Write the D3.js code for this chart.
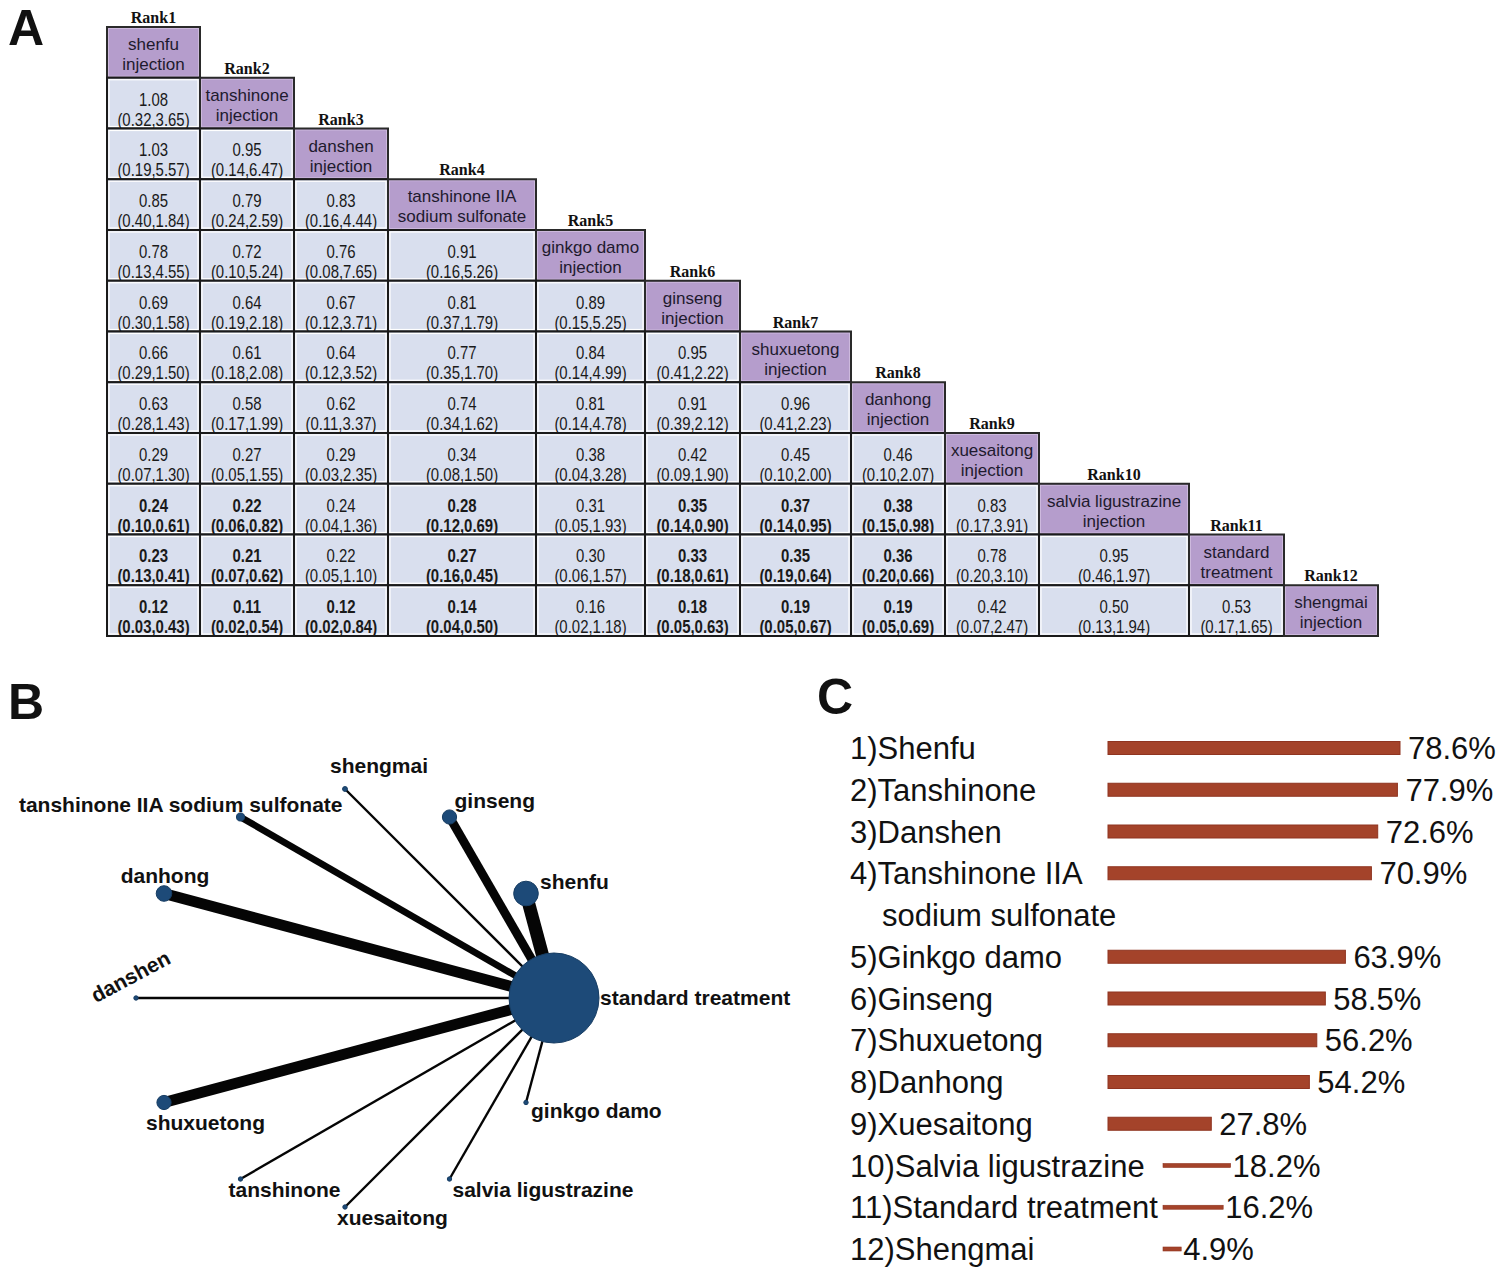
<!DOCTYPE html>
<html><head><meta charset="utf-8">
<script src="https://cdn.jsdelivr.net/npm/d3@7"></script>
<style>body{margin:0;background:#fff}svg{display:block}</style>
</head><body>
<svg id="chart" width="1500" height="1271"></svg>
<script>
// ================= DATA =================
// Panel A: league table
const treatmentLines = [
  ["shenfu","injection"],["tanshinone","injection"],["danshen","injection"],
  ["tanshinone IIA","sodium sulfonate"],["ginkgo damo","injection"],["ginseng","injection"],
  ["shuxuetong","injection"],["danhong","injection"],["xuesaitong","injection"],
  ["salvia ligustrazine","injection"],["standard","treatment"],["shengmai","injection"]
];
const rankLabels = ["Rank1","Rank2","Rank3","Rank4","Rank5","Rank6","Rank7","Rank8","Rank9","Rank10","Rank11","Rank12"];
const leagueOR = [
  [],
  [1.08],
  [1.03,0.95],
  [0.85,0.79,0.83],
  [0.78,0.72,0.76,0.91],
  [0.69,0.64,0.67,0.81,0.89],
  [0.66,0.61,0.64,0.77,0.84,0.95],
  [0.63,0.58,0.62,0.74,0.81,0.91,0.96],
  [0.29,0.27,0.29,0.34,0.38,0.42,0.45,0.46],
  [0.24,0.22,0.24,0.28,0.31,0.35,0.37,0.38,0.83],
  [0.23,0.21,0.22,0.27,0.30,0.33,0.35,0.36,0.78,0.95],
  [0.12,0.11,0.12,0.14,0.16,0.18,0.19,0.19,0.42,0.50,0.53]
];
const leagueLow = [
  [],
  [0.32],
  [0.19,0.14],
  [0.40,0.24,0.16],
  [0.13,0.10,0.08,0.16],
  [0.30,0.19,0.12,0.37,0.15],
  [0.29,0.18,0.12,0.35,0.14,0.41],
  [0.28,0.17,0.11,0.34,0.14,0.39,0.41],
  [0.07,0.05,0.03,0.08,0.04,0.09,0.10,0.10],
  [0.10,0.06,0.04,0.12,0.05,0.14,0.14,0.15,0.17],
  [0.13,0.07,0.05,0.16,0.06,0.18,0.19,0.20,0.20,0.46],
  [0.03,0.02,0.02,0.04,0.02,0.05,0.05,0.05,0.07,0.13,0.17]
];
const leagueHigh = [
  [],
  [3.65],
  [5.57,6.47],
  [1.84,2.59,4.44],
  [4.55,5.24,7.65,5.26],
  [1.58,2.18,3.71,1.79,5.25],
  [1.50,2.08,3.52,1.70,4.99,2.22],
  [1.43,1.99,3.37,1.62,4.78,2.12,2.23],
  [1.30,1.55,2.35,1.50,3.28,1.90,2.00,2.07],
  [0.61,0.82,1.36,0.69,1.93,0.90,0.95,0.98,3.91],
  [0.41,0.62,1.10,0.45,1.57,0.61,0.64,0.66,3.10,1.97],
  [0.43,0.54,0.84,0.50,1.18,0.63,0.67,0.69,2.47,1.94,1.65]
];

// Panel B: network
const networkNodes = ["standard treatment","shenfu","ginseng","shengmai","tanshinone IIA sodium sulfonate",
  "danhong","danshen","shuxuetong","tanshinone","xuesaitong","salvia ligustrazine","ginkgo damo"];
const nodeSampleSize = [2000,150,50,6,16,60,4,50,4,4,4,4];
const edgeStudies = [0,6,4,1,3,5,1,5,1,1,1,1]; // edges to standard treatment

// Panel C: SUCRA
const sucraLabels = [
  ["1)Shenfu"],["2)Tanshinone"],["3)Danshen"],["4)Tanshinone IIA","sodium sulfonate"],
  ["5)Ginkgo damo"],["6)Ginseng"],["7)Shuxuetong"],["8)Danhong"],["9)Xuesaitong"],
  ["10)Salvia ligustrazine"],["11)Standard treatment"],["12)Shengmai"]
];
const sucraValues = [78.6,77.9,72.6,70.9,63.9,58.5,56.2,54.2,27.8,18.2,16.2,4.9];

// ================= LAYOUT / STYLE =================
const svg = d3.select("#chart");
const SANS = "'Liberation Sans', Arial, sans-serif";
const SERIF = "'Liberation Serif', 'Times New Roman', serif";

// panel letters
[["A",8,45],["B",8,719],["C",817,714]].forEach(([t,x,y])=>{
  svg.append("text").attr("x",x).attr("y",y).text(t)
    .attr("font-family",SANS).attr("font-weight","bold").attr("font-size",50).attr("fill","#111");
});

// ---------- Panel A ----------
const colWidths = [93,94,94,148,109,95,111,94,94,150,95,94];
const colX = Array.from(d3.cumsum([107, ...colWidths])).slice(0, colWidths.length);
const yRow = d3.scaleBand().domain(d3.range(treatmentLines.length)).range([27, 636]);
const rowH = yRow.bandwidth();
const f2 = d3.format(".2f");
const gA = svg.append("g");

treatmentLines.forEach((lines, r) => {
  const top = yRow(r);
  for (let c = 0; c <= r; c++) {
    const x = colX[c], w = colWidths[c];
    if (c === r) {
      gA.append("rect").attr("x",x).attr("y",top).attr("width",w).attr("height",rowH)
        .attr("fill","#b59dcc");
      gA.append("rect").attr("x",x+1.5).attr("y",top+1.5).attr("width",w-3).attr("height",rowH-3)
        .attr("fill","none").attr("stroke","#cdb9dd").attr("stroke-width",1);
      gA.append("rect").attr("x",x).attr("y",top).attr("width",w).attr("height",rowH)
        .attr("fill","none").attr("stroke","#2a2a2a").attr("stroke-width",2);
      lines.forEach((ln,k)=>{
        gA.append("text").attr("x",x+w/2).attr("y",top+23+k*20).attr("text-anchor","middle")
          .attr("font-family",SANS).attr("font-size",17).attr("fill","#1e1a2e").text(ln);
      });
      gA.append("text").attr("x",x+w/2).attr("y",top-4).attr("text-anchor","middle")
        .attr("font-family",SERIF).attr("font-weight","bold").attr("font-size",16).attr("fill","#111")
        .text(rankLabels[r]);
    } else {
      const or = leagueOR[r][c], lo = leagueLow[r][c], hi = leagueHigh[r][c];
      const bold = hi < 1;
      gA.append("rect").attr("x",x).attr("y",top).attr("width",w).attr("height",rowH)
        .attr("fill","#d9dfee");
      gA.append("rect").attr("x",x+2).attr("y",top+2).attr("width",w-4).attr("height",rowH-4)
        .attr("fill","none").attr("stroke","#ffffff").attr("stroke-width",1.2);
      gA.append("rect").attr("x",x).attr("y",top).attr("width",w).attr("height",rowH)
        .attr("fill","none").attr("stroke","#1a1a1a").attr("stroke-width",2);
      const g = gA.append("g").attr("transform",`translate(${x+w/2},${top}) scale(0.83,1)`);
      g.append("text").attr("x",0).attr("y",28).attr("text-anchor","middle")
        .attr("font-family",SANS).attr("font-size",18).attr("font-weight",bold?"bold":"normal")
        .attr("fill","#1a1a1a").text(f2(or));
      g.append("text").attr("x",0).attr("y",48).attr("text-anchor","middle")
        .attr("font-family",SANS).attr("font-size",18).attr("font-weight",bold?"bold":"normal")
        .attr("fill","#1a1a1a").text(`(${f2(lo)},${f2(hi)})`);
    }
  }
});

// ---------- Panel B ----------
const gB = svg.append("g");
const cx = 345, cy = 998, R = 209;
const angle = d3.scaleLinear().domain([0, networkNodes.length]).range([0, 2*Math.PI]);
const rScale = d3.scaleSqrt().domain([0, 2000]).range([0, 45]);
const wScale = d3.scaleLinear().domain([1, 6]).range([2.4, 13]);
const nodes = networkNodes.map((name,i)=>({
  name, size: nodeSampleSize[i], studies: edgeStudies[i],
  x: cx + R*Math.cos(angle(i)), y: cy - R*Math.sin(angle(i))
}));
const hub = nodes[0];
gB.selectAll("line.edge").data(nodes.slice(1)).join("line").attr("class","edge")
  .attr("x1",d=>d.x).attr("y1",d=>d.y).attr("x2",hub.x).attr("y2",hub.y)
  .attr("stroke","#050505").attr("stroke-width",d=>wScale(d.studies));
gB.selectAll("circle.node").data(nodes).join("circle").attr("class","node")
  .attr("cx",d=>d.x).attr("cy",d=>d.y).attr("r",d=>Math.max(2.2,rScale(d.size)))
  .attr("fill","#1d4a78").attr("stroke","#173d63").attr("stroke-width",1);
// label placement relative to nodes
const labelPlace = {
  "standard treatment":{dx:46,dy:7,a:"start"},
  "shenfu":{dx:14,dy:-5,a:"start"},
  "ginseng":{dx:5,dy:-9,a:"start"},
  "shengmai":{dx:34,dy:-16,a:"middle"},
  "tanshinone IIA sodium sulfonate":{dx:102,dy:-5,a:"end"},
  "danhong":{dx:1,dy:-11,a:"middle"},
  "danshen":{dx:-2,dy:-15,a:"middle",rot:-28},
  "shuxuetong":{dx:-18,dy:27,a:"start"},
  "tanshinone":{dx:-12,dy:18,a:"start"},
  "xuesaitong":{dx:-8,dy:18,a:"start"},
  "salvia ligustrazine":{dx:3,dy:18,a:"start"},
  "ginkgo damo":{dx:5,dy:15,a:"start"}
};
nodes.forEach(d=>{
  const p = labelPlace[d.name];
  const t = gB.append("text").attr("text-anchor",p.a)
    .attr("font-family",SANS).attr("font-weight","bold").attr("font-size",21).attr("fill","#111")
    .text(d.name);
  if (p.rot) t.attr("transform",`translate(${d.x+p.dx},${d.y+p.dy}) rotate(${p.rot})`);
  else t.attr("x",d.x+p.dx).attr("y",d.y+p.dy);
});

// ---------- Panel C ----------
const gC = svg.append("g");
const lineStart = [];
let acc = 0;
sucraLabels.forEach(l=>{ lineStart.push(acc); acc += l.length; });
const slotY = d3.scaleLinear().domain([0, acc-1]).range([748, 1249]);
const barLen = d3.scaleLinear().domain([0, 78.6]).range([0, 292]);
sucraLabels.forEach((lines,i)=>{
  const yc = slotY(lineStart[i]);
  lines.forEach((ln,k)=>{
    gC.append("text").attr("x", k===0 ? 850 : 882).attr("y", slotY(lineStart[i]+k)+11)
      .attr("font-family",SANS).attr("font-size",31).attr("fill","#111").text(ln);
  });
  const v = sucraValues[i];
  const thin = v < 20;
  const x0 = thin ? 1163 : 1108;
  const h = thin ? 4 : 13;
  gC.append("rect").attr("x",x0).attr("y",yc-h/2).attr("width",barLen(v)).attr("height",h)
    .attr("fill","#a4432a").attr("stroke","#8f3420").attr("stroke-width",thin?0.6:1);
  gC.append("text").attr("x",x0+barLen(v)+(thin?2:8)).attr("y",yc+11)
    .attr("font-family",SANS).attr("font-size",31).attr("fill","#111").text(v.toFixed(1)+"%");
});
</script>
</body></html>
